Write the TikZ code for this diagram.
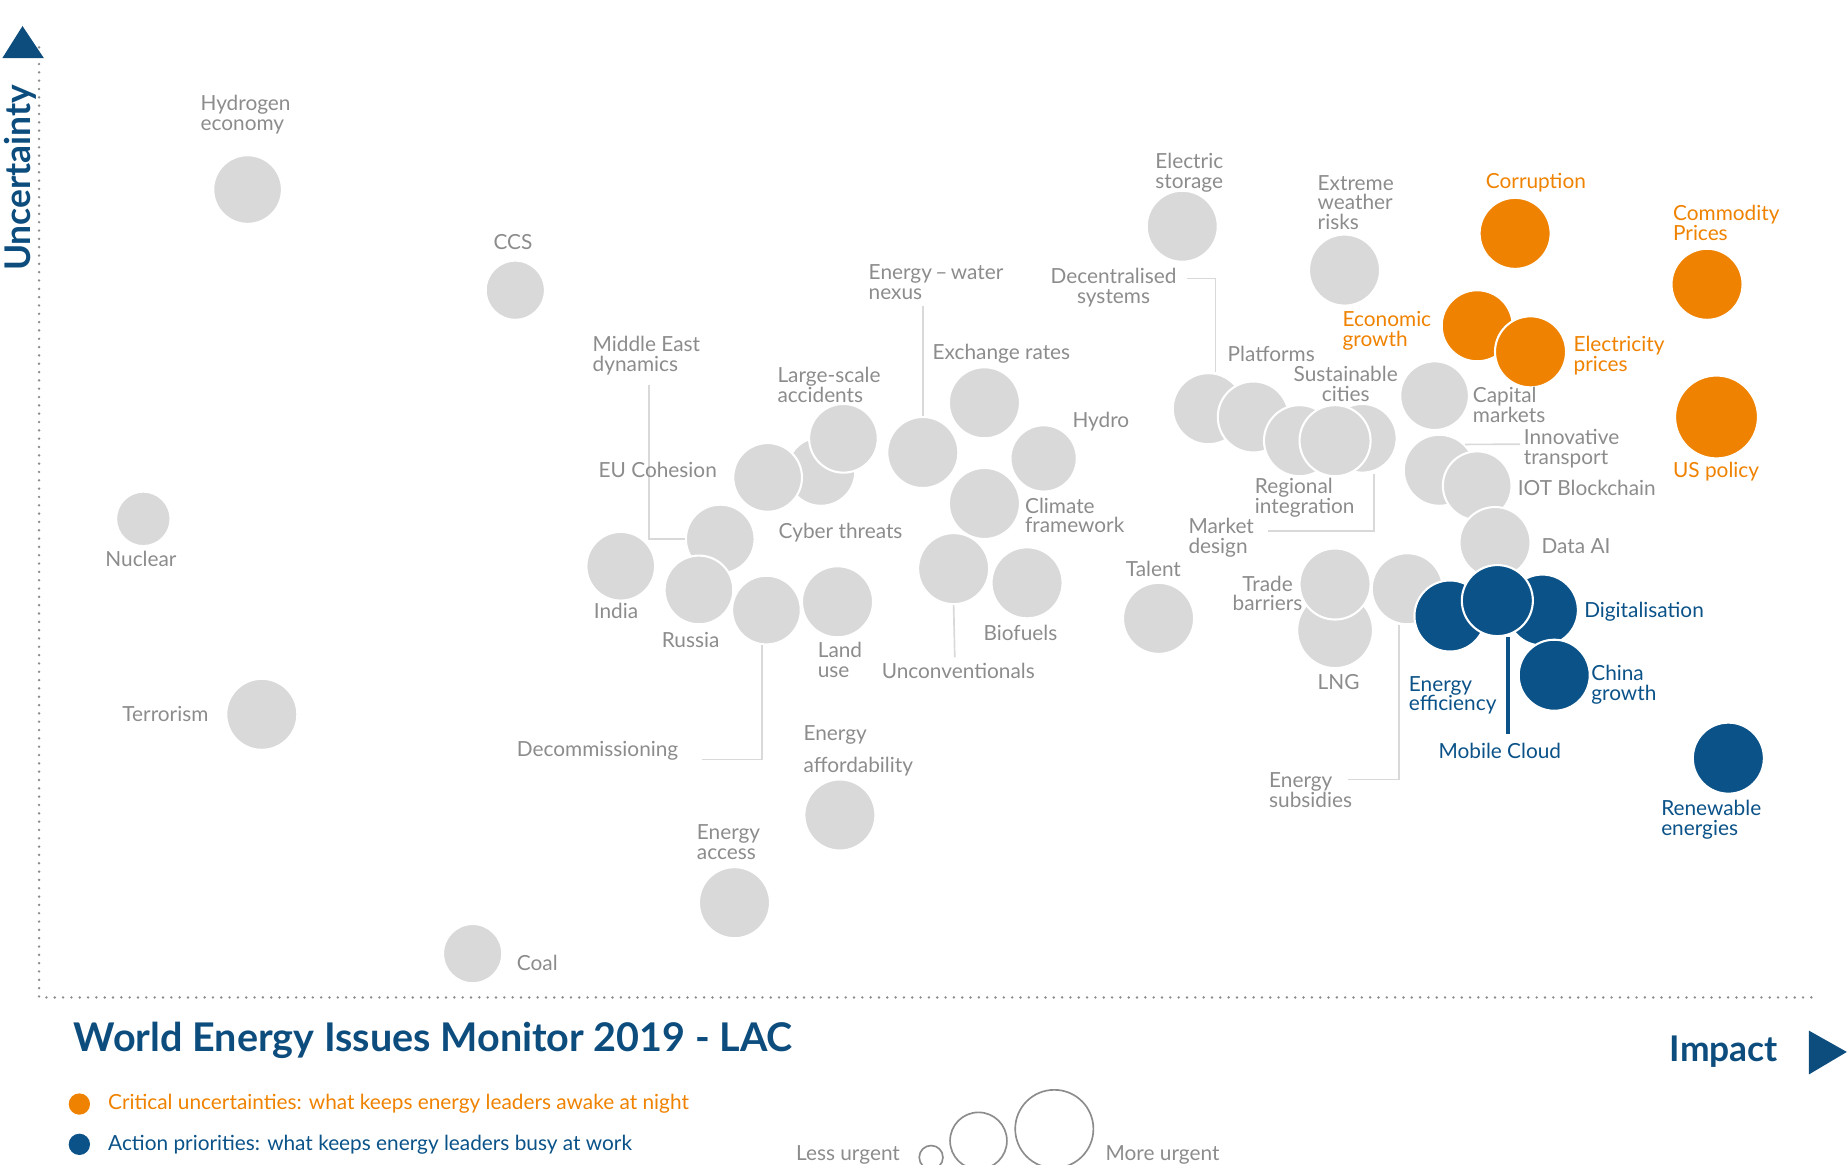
\documentclass[tikz,border=0pt]{standalone}
\usepackage{fontspec}
\setmainfont{Lato}
\definecolor{issuegrey}{HTML}{D9D9D9}
\definecolor{labelgrey}{HTML}{8C8C8C}
\definecolor{critorange}{HTML}{EF8200}
\definecolor{actblue}{HTML}{0A5288}
\definecolor{titleblue}{HTML}{0D4D7E}
\tikzset{
  bubble/.style={circle,draw=white,line width=1pt,inner sep=0pt},
  lbl/.style={text=labelgrey,inner sep=0pt,align=left,font=\fontsize{10}{9.5}\selectfont},
  olbl/.style={lbl,text=critorange},
  blbl/.style={lbl,text=actblue},
  leader/.style={draw=issuegrey,line width=0.8pt},
  axis/.style={draw=labelgrey,line width=1.3pt,dash pattern=on 0pt off 4pt,line cap=round}
}
\begin{document}
\begin{tikzpicture}[x=0.02cm,y=-0.02cm]
\useasboundingbox (0,0) rectangle (1560,983);
% axes
\draw[axis] (33,40) -- (33,842) -- (1532,842);
\fill[titleblue] (19,22) -- (2,49) -- (37,49) -- cycle;
\fill[titleblue] (1527,870) -- (1527,907) -- (1559,888) -- cycle;
\node[rotate=90,text=titleblue,font=\fontsize{17}{17}\bfseries] (unc) at (17,150) {Uncertainty};
\node[text=titleblue,font=\fontsize{17}{17}\bfseries,anchor=east] (imp) at (1507,888) {Impact};
% grey issues
\foreach \n/\x/\y/\r in {hyd/209/160/29,ccs/435/245/25,nuc/121/438/23,ter/221/603/30,coal/399/805/25,
  acc/620/762/30,aff/709/688/30,mde/608/455/29,ind/524/478/29,rus/590/498/29,dec/647/515/29,
  cyb/693/398/29,eu/648/403/29,lsa/712/370/29,land/707/508/30,ewn/779/382/30,exr/831/340/30,
  hydro/881/387/28,clim/831/425/30,unc/805/480/30,bio/867/492/30,tal/978/522/30,
  est/998/191/30,dsys/1020/345/30,plat/1058/352/30,sus/1097/372/30,mkt/1150/370/29,reg/1127/372/30,
  ewr/1135/228/30,cap/1211/334/29,inn/1215/397/30,iot/1247/410/29,data/1262/458/30,
  lng/1127/532/32,trade/1127/493/30,sub/1188/497/30}
  \node[bubble,fill=issuegrey,minimum size=\r*0.04cm] (c\n) at (\x,\y) {};
% action priorities
\foreach \n/\x/\y/\r in {eff/1224/520/30,dig/1302/515/30,mob/1264/507/30,chi/1312/570/30,ren/1459/640/30}
  \node[bubble,fill=actblue,minimum size=\r*0.04cm] (c\n) at (\x,\y) {};
% critical uncertainties
\foreach \n/\x/\y/\r in {cor/1279/197/30,com/1441/240/30,eco/1247/275/30,ele/1292/297/30,usp/1449/352/35}
  \node[bubble,fill=critorange,minimum size=\r*0.04cm] (c\n) at (\x,\y) {};
% leader lines
\draw[leader] (cmde) -- (548,455) -- (548,325);
\draw[leader] (cdec.south) ++(-4,0) -- (643,641) -- (593,641);
\draw[leader] (cewn.north) -- (779,258);
\draw[leader] (cunc.south) -- (806,555);
\draw[leader] (cdsys.north) ++(6,0) -- (1026,235) -- (1002,235);
\draw[leader] (cmkt.south) ++(10,0) -- (1160,448) -- (1070,448);
\draw[leader] (cinn.north east) -- (1283,375);
\draw[leader] (csub.south) ++(-7,0) -- (1181,658) -- (1138,658);
\draw[actblue,line width=1.5pt] (cmob.south) ++(9,0) -- (1273,620);
% labels
\node[lbl,anchor=west] (lhyd) at (169,97) {Hydrogen\\economy};
\node[lbl] (lccs) at (433,204) {CCS};
\node[lbl,anchor=west] (lmde) at (500,300) {Middle East\\dynamics};
\node[lbl,anchor=west] (llsa) at (656,325) {Large-scale\\accidents};
\node[lbl,anchor=west] (lewn) at (733,238) {Energy\,–\,water\\nexus};
\node[lbl,anchor=west] (lexr) at (787,299) {Exchange rates};
\node[lbl,anchor=west] (leu) at (505,397) {EU Cohesion};
\node[lbl,anchor=west] (lhydro) at (905,356) {Hydro};
\node[lbl,anchor=west] (lclim) at (865,435) {Climate\\framework};
\node[lbl,anchor=west] (lcyb) at (657,450) {Cyber threats};
\node[lbl] (lnuc) at (119,472) {Nuclear};
\node[lbl] (lind) at (520,516) {India};
\node[lbl] (lrus) at (583,540) {Russia};
\node[lbl,anchor=west] (lland) at (690,557) {Land\\use};
\node[lbl,anchor=west] (lunc) at (744,566) {Unconventionals};
\node[lbl,anchor=west] (lbio) at (830,534) {Biofuels};
\node[lbl,anchor=west] (ltal) at (950,480) {Talent};
\node[lbl,anchor=west] (lter) at (103,603) {Terrorism};
\node[lbl,anchor=west] (ldec) at (436,634) {Decommissioning};
\node[lbl,anchor=west] (laff) at (678,634) {Energy\\[6pt]affordability};
\node[lbl,anchor=west] (lacc) at (588,711) {Energy\\access};
\node[lbl,anchor=west] (lcoal) at (436,813) {Coal};
\node[lbl,anchor=west] (lest) at (975,146) {Electric\\storage};
\node[lbl,align=center] (ldsys) at (940,243) {Decentralised\\systems};
\node[lbl,anchor=west] (lplat) at (1036,299) {Platforms};
\node[lbl,align=center] (lsus) at (1136,324) {Sustainable\\cities};
\node[lbl,anchor=west] (lreg) at (1059,420) {Regional\\integration};
\node[lbl,anchor=west] (lmkt) at (1003,454) {Market\\design};
\node[lbl,anchor=west] (lewr) at (1112,171) {Extreme\\weather\\risks};
\node[lbl,align=center] (ltrade) at (1070,501) {Trade\\barriers};
\node[lbl,anchor=west] (llng) at (1112,576) {LNG};
\node[lbl,anchor=west] (lsub) at (1071,667) {Energy\\subsidies};
\node[lbl,anchor=west] (lcap) at (1243,342) {Capital\\markets};
\node[lbl,anchor=west] (linn) at (1286,379) {Innovative\\transport};
\node[lbl,anchor=west] (liot) at (1281,412) {IOT Blockchain};
\node[lbl,anchor=west] (ldata) at (1301,461) {Data AI};
\node[olbl,anchor=west] (lcor) at (1254,154) {Corruption};
\node[olbl,anchor=west] (lcom) at (1412,188) {Commodity\\Prices};
\node[olbl,anchor=west] (leco) at (1133,279) {Economic\\growth};
\node[olbl,anchor=west] (lele) at (1328,300) {Electricity\\prices};
\node[olbl,anchor=west] (lusp) at (1412,398) {US policy};
\node[blbl,anchor=west] (ldig) at (1337,516) {Digitalisation};
\node[blbl,anchor=west] (lchi) at (1343,578) {China\\growth};
\node[blbl,anchor=west] (leff) at (1189,587) {Energy\\efficiency};
\node[blbl,anchor=west] (lmob) at (1214,634) {Mobile Cloud};
\node[blbl,anchor=west] (lren) at (1402,692) {Renewable\\energies};
% title and legend
\node[text=titleblue,anchor=west,inner sep=0pt,font=\fontsize{19}{19}\bfseries] (title) at (62,878) {World Energy Issues Monitor 2019 - LAC};
\fill[critorange] (67,932) circle (9);
\fill[actblue] (67,966) circle (9);
\node[olbl,anchor=west] (lcrit) at (91,932) {Critical uncertainties: what keeps energy leaders awake at night};
\node[blbl,anchor=west] (lact) at (91,966) {Action priorities: what keeps energy leaders busy at work};
\draw[labelgrey,line width=0.8pt] (786,977) circle (10) (826,963) circle (24) (890,953) circle (33);
\node[lbl,anchor=east] (lless) at (760,975) {Less urgent};
\node[lbl,anchor=west] (lmore) at (933,975) {More urgent};
\end{tikzpicture}
\end{document}
